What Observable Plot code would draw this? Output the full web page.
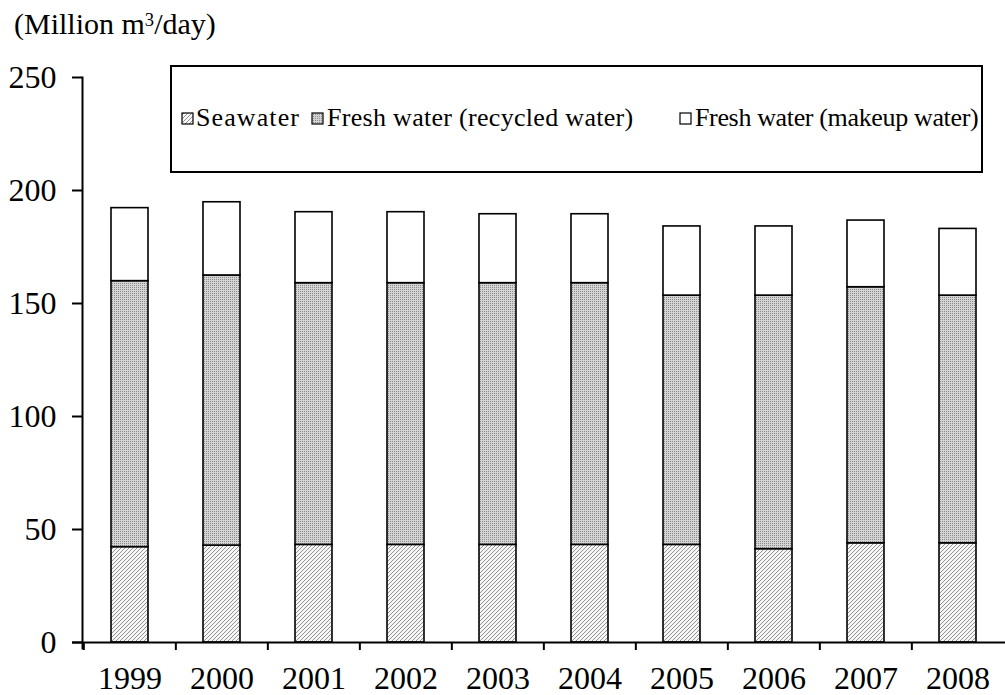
<!DOCTYPE html>
<html><head><meta charset="utf-8">
<script src="https://cdn.jsdelivr.net/npm/d3@7"></script>
<script src="https://cdn.jsdelivr.net/npm/@observablehq/plot@0.6"></script>
<style>
body{margin:0;background:#fff;font-family:"Liberation Serif","Times New Roman",serif;color:#000}
#wrap{position:relative;width:1005px;height:695px;overflow:hidden;background:#fff}
#title{position:absolute;left:14px;top:9px;font-size:30px;line-height:1;white-space:nowrap}
#title .sup{font-size:0.62em;position:relative;top:-0.45em}
#chart{position:absolute;left:0;top:45px}
#legendBox{position:absolute;left:170px;top:65px;width:813px;height:108px;border:2px solid #000;box-sizing:border-box;background:#fff}
.li{position:absolute;font-size:26px;line-height:1;white-space:nowrap;top:105px}
.sw{position:absolute;top:112px;width:13px;height:13px}
</style></head><body>
<div id="wrap">
<div id="chart"></div>
<div id="title">(Million m<span class="sup">3</span>/day)</div>
<div id="legendBox"></div>
</div>
<script>
const years = ["1999","2000","2001","2002","2003","2004","2005","2006","2007","2008"];
const seriesNames = ["Seawater", "Fresh water (recycled water)", "Fresh water (makeup water)"];
const seawater = [42.2, 42.9, 43.2, 43.2, 43.2, 43.2, 43.2, 41.3, 43.9, 43.9];
const recycled = [117.7, 119.5, 115.8, 115.8, 115.8, 115.8, 110.3, 112.2, 113.3, 109.6];
const makeup   = [32.3, 32.4, 31.4, 31.4, 30.5, 30.5, 30.6, 30.6, 29.5, 29.5];
const yTicks = [0, 50, 100, 150, 200, 250];

const fills = ["url(#seaHatch)", "url(#recDots)", "#ffffff"];
const valuesBySeries = [seawater, recycled, makeup];
const table = [];
seriesNames.forEach((s, si) => years.forEach((y, i) => table.push({year: y, series: s, value: valuesBySeries[si][i]})));

const W = 1005, mL = 82, mR = 0;
const step = (W - mL - mR) / years.length;

const plot = Plot.plot({
  width: W, height: 650,
  marginLeft: mL, marginRight: mR, marginTop: 32, marginBottom: 53,
  style: {fontFamily: '"Liberation Serif","Times New Roman",serif', fontSize: "32px", color: "#000", background: "transparent", overflow: "visible"},
  x: {domain: years, paddingInner: 0.6, paddingOuter: 0.3, label: null},
  y: {domain: [0, 250], label: null},
  color: {domain: seriesNames, range: fills},
  marks: [
    Plot.barY(table, {x: "year", y: "value", fill: "series", stroke: "#000", strokeWidth: 1.6}),
    Plot.frame({anchor: "left", insetBottom: -6, stroke: "#000", strokeWidth: 2}),
    Plot.ruleY([0], {insetLeft: -10, stroke: "#000", strokeWidth: 2}),
    Plot.axisY({ticks: yTicks, tickSize: 10, tickPadding: 16, fontSize: 32, strokeWidth: 2, label: null}),
    Plot.axisX({tickSize: 0, tickPadding: 24, fontSize: 32, label: null}),
    Plot.axisX({tickSize: 8, tickFormat: () => "", dx: -step / 2, strokeWidth: 2, label: null})
  ]
});
document.getElementById("chart").appendChild(plot);

const defs = d3.select(plot).insert("defs", ":first-child");
const h = defs.append("pattern").attr("id", "seaHatch").attr("patternUnits", "userSpaceOnUse").attr("width", 4).attr("height", 4);
h.append("rect").attr("width", 4).attr("height", 4).attr("fill", "#f6f6f6");
h.append("path").attr("d", "M-1,1 L1,-1 M0,4 L4,0 M3,5 L5,3").attr("stroke", "#7a7a7a").attr("stroke-width", 0.8);
const p = defs.append("pattern").attr("id", "recDots").attr("patternUnits", "userSpaceOnUse").attr("width", 2).attr("height", 2);
p.append("rect").attr("width", 2).attr("height", 2).attr("fill", "#d4d4d4");
p.append("rect").attr("width", 1).attr("height", 1).attr("fill", "#8c8c8c");

// legend
const legendLayout = [{sw: 181, tx: 196, ls: 1.1}, {sw: 311, tx: 327, ls: 0.3}, {sw: 679, tx: 695, ls: -0.35}];
const wrap = document.getElementById("wrap");
seriesNames.forEach((s, i) => {
  const sw = document.createElementNS("http://www.w3.org/2000/svg", "svg");
  sw.setAttribute("class", "sw");
  sw.setAttribute("width", 13); sw.setAttribute("height", 13);
  sw.style.left = legendLayout[i].sw + "px";
  sw.innerHTML = `<rect x="1" y="1" width="11" height="11" fill="${fills[i]}" stroke="#000" stroke-width="1.2"/>`;
  wrap.appendChild(sw);
  const t = document.createElement("div");
  t.className = "li";
  t.style.left = legendLayout[i].tx + "px";
  t.style.letterSpacing = legendLayout[i].ls + "px";
  t.textContent = s;
  wrap.appendChild(t);
});
</script>
</body></html>
